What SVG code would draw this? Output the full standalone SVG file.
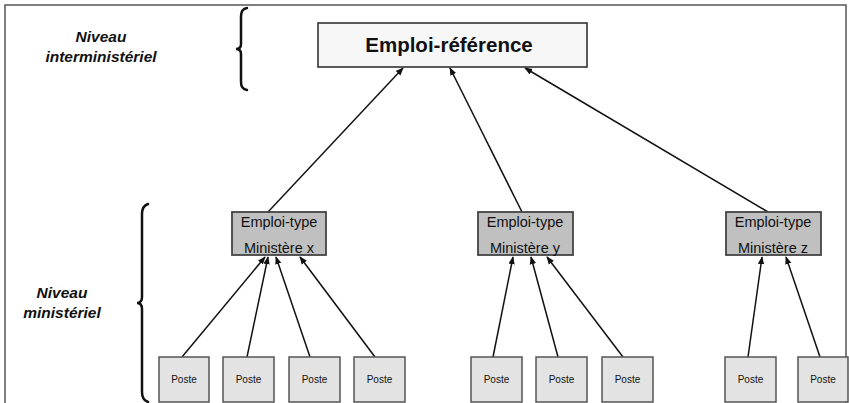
<svg xmlns="http://www.w3.org/2000/svg" width="849" height="403" viewBox="0 0 849 403">
  <defs>
    <marker id="arr" viewBox="0 0 10 10" refX="9" refY="5" markerWidth="8" markerHeight="8" orient="auto" markerUnits="userSpaceOnUse">
      <path d="M0,1 L10,5 L0,9 Z" fill="#111"/>
    </marker>
    <style>
      .frame { fill: none; stroke: #555; stroke-width: 1.5; }
      .brace { fill: none; stroke: #111; stroke-width: 2.5; stroke-linecap: round; }
      .lvl { font-family: "Liberation Sans", Arial, sans-serif; font-size: 15.5px; font-weight: bold; font-style: italic; fill: #111; text-anchor: middle; }
      .ref rect { fill: #f7f7f7; stroke: #333; stroke-width: 1.6; }
      .ref text { font-family: "Liberation Sans", Arial, sans-serif; font-size: 20.5px; font-weight: bold; fill: #111; text-anchor: middle; }
      .type rect { fill: #c0c0c0; stroke: #444; stroke-width: 1.8; }
      .type text { font-family: "Liberation Sans", Arial, sans-serif; font-size: 14.5px; fill: #111; text-anchor: middle; }
      .poste rect { fill: #e3e3e3; stroke: #555; stroke-width: 1.5; }
      .poste text { font-family: "Liberation Sans", Arial, sans-serif; font-size: 10px; fill: #111; text-anchor: middle; }
      #connectors line { stroke: #111; stroke-width: 1.5; marker-end: url(#arr); }
    </style>
  </defs>

  <rect x="0" y="0" width="849" height="403" fill="#fff"/>

  <!-- outer frame -->
  <path class="frame" d="M5,403 L5,5 L846,5 L846,403"/>

  <!-- level labels and braces -->
  <g id="level-inter">
    <text class="lvl" x="101" y="42">Niveau</text>
    <text class="lvl" x="101" y="62">interministériel</text>
    <path class="brace" d="M247,8 Q241,9 241,16 L241,44 Q241,49 236,49 Q241,49 241,54 L241,82 Q241,89 247,90"/>
  </g>
  <g id="level-min">
    <text class="lvl" x="62" y="298">Niveau</text>
    <text class="lvl" x="62" y="318">ministériel</text>
    <path class="brace" d="M148,204 Q142,206 142,214 L142,297 Q142,303 137,303 Q142,303 142,309 L142,392 Q142,400 148,402"/>
  </g>

  <!-- connectors -->
  <g id="connectors">
    <line x1="268" y1="212" x2="403" y2="68"/>
    <line x1="522" y1="212" x2="450" y2="68"/>
    <line x1="768" y1="212" x2="525" y2="68"/>

    <line x1="182" y1="357" x2="265" y2="257"/>
    <line x1="247" y1="357" x2="268" y2="257"/>
    <line x1="310" y1="357" x2="276" y2="257"/>
    <line x1="375" y1="357" x2="300" y2="257"/>

    <line x1="493" y1="357" x2="513" y2="257"/>
    <line x1="558" y1="357" x2="531" y2="257"/>
    <line x1="623" y1="357" x2="547" y2="257"/>

    <line x1="748" y1="357" x2="762" y2="257"/>
    <line x1="820" y1="357" x2="786" y2="257"/>
  </g>

  <!-- top node -->
  <g id="emploi-reference" class="ref">
    <rect x="318" y="23" width="269" height="44"/>
    <text x="449" y="52">Emploi-référence</text>
  </g>

  <!-- ministry nodes -->
  <g id="emploi-type-x" class="type">
    <rect x="232" y="212" width="94" height="43"/>
    <text x="279" y="227">Emploi-type</text>
    <text x="279" y="253">Ministère x</text>
  </g>
  <g id="emploi-type-y" class="type">
    <rect x="478" y="212" width="95" height="43"/>
    <text x="525" y="227">Emploi-type</text>
    <text x="525" y="253">Ministère y</text>
  </g>
  <g id="emploi-type-z" class="type">
    <rect x="726" y="212" width="95" height="43"/>
    <text x="773" y="227">Emploi-type</text>
    <text x="773" y="253">Ministère z</text>
  </g>

  <!-- posts -->
  <g id="poste-1" class="poste"><rect x="159" y="357" width="50" height="45"/><text x="184" y="383">Poste</text></g>
  <g id="poste-2" class="poste"><rect x="223" y="357" width="51" height="45"/><text x="248.5" y="383">Poste</text></g>
  <g id="poste-3" class="poste"><rect x="289" y="357" width="51" height="45"/><text x="314.5" y="383">Poste</text></g>
  <g id="poste-4" class="poste"><rect x="354" y="357" width="51" height="45"/><text x="379.5" y="383">Poste</text></g>
  <g id="poste-5" class="poste"><rect x="471" y="357" width="51" height="45"/><text x="496.5" y="383">Poste</text></g>
  <g id="poste-6" class="poste"><rect x="536" y="357" width="51" height="45"/><text x="561.5" y="383">Poste</text></g>
  <g id="poste-7" class="poste"><rect x="602" y="357" width="51" height="45"/><text x="627.5" y="383">Poste</text></g>
  <g id="poste-8" class="poste"><rect x="725" y="357" width="51" height="45"/><text x="750.5" y="383">Poste</text></g>
  <g id="poste-9" class="poste"><rect x="798" y="357" width="50" height="45"/><text x="823" y="383">Poste</text></g>
</svg>
